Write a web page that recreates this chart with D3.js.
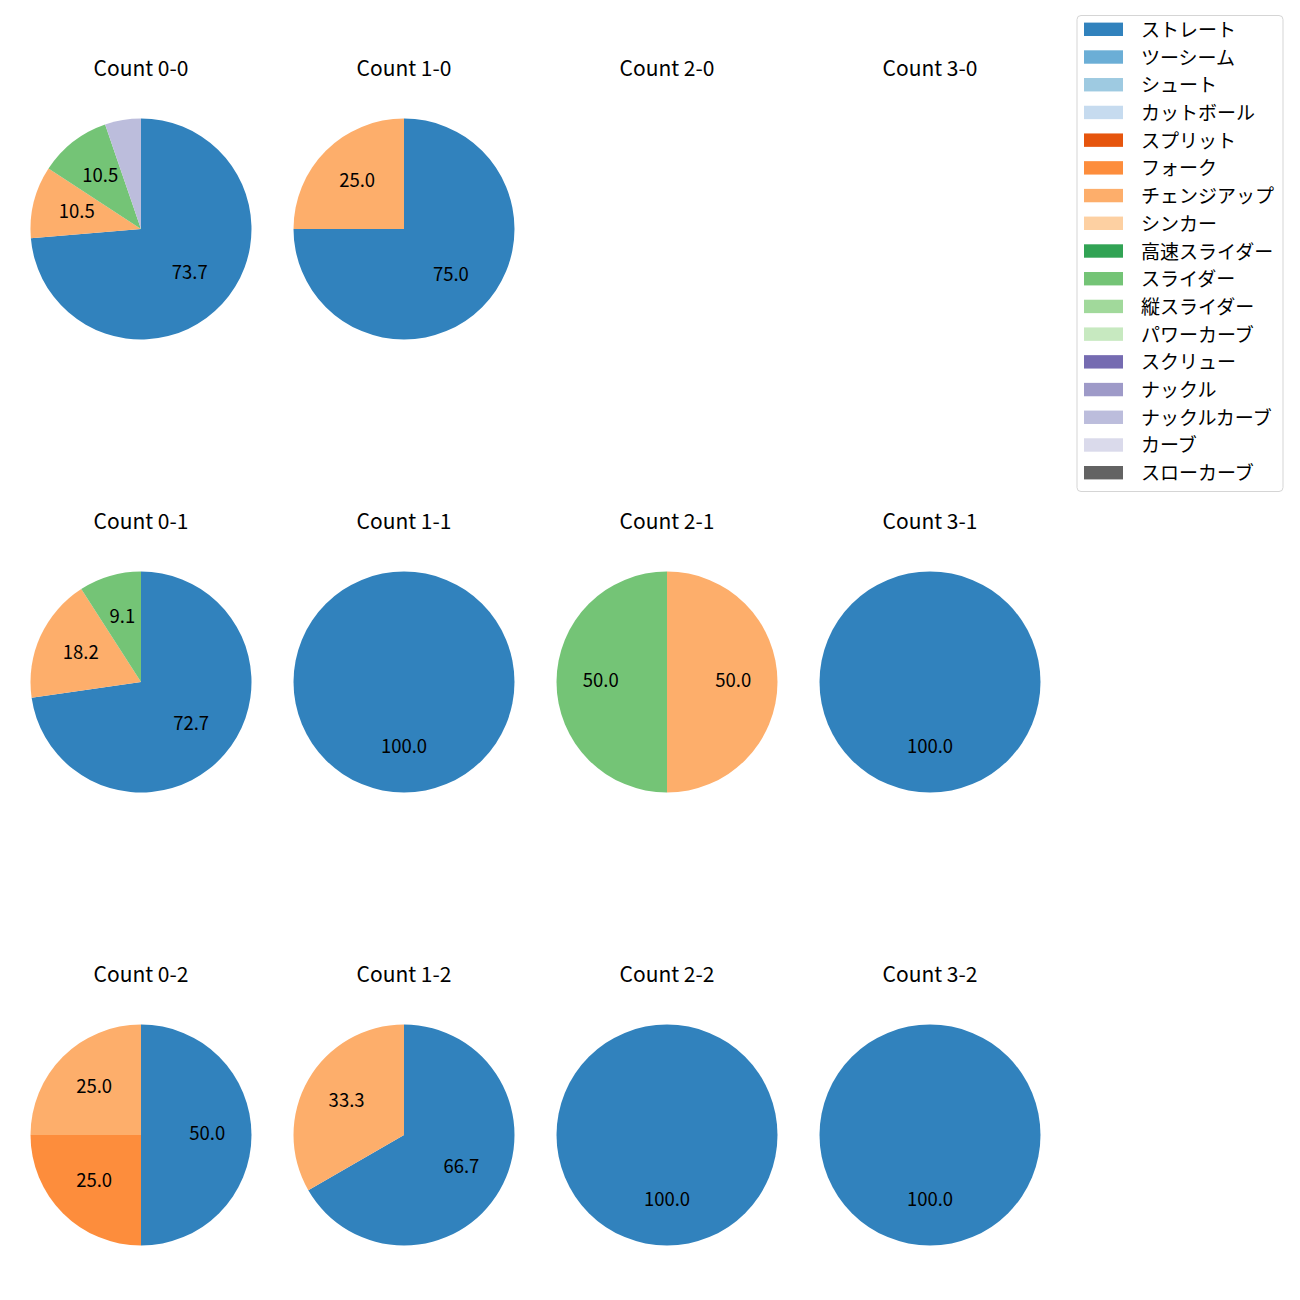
<!DOCTYPE html>
<html><head><meta charset="utf-8">
<script src="https://cdn.jsdelivr.net/npm/d3@7"></script>
<style>body{margin:0;background:#fff}svg{display:block}text{font-family:"Noto Sans CJK JP","Noto Sans",sans-serif}</style>
</head><body><svg id="c" width="1300" height="1300"></svg>
<script>
const pitchTypes = ["ストレート","ツーシーム","シュート","カットボール","スプリット","フォーク","チェンジアップ","シンカー","高速スライダー","スライダー","縦スライダー","パワーカーブ","スクリュー","ナックル","ナックルカーブ","カーブ","スローカーブ"];
const colors = ["#3182bd","#6baed6","#9ecae1","#c6dbef","#e6550d","#fd8d3c","#fdae6b","#fdd0a2","#31a354","#74c476","#a1d99b","#c7e9c0","#756bb1","#9e9ac8","#bcbddc","#dadaeb","#636363"];
const countLabels = ["0-0","1-0","2-0","3-0","0-1","1-1","2-1","3-1","0-2","1-2","2-2","3-2"];
// pitch counts per ball-strike count: [pitchType, number]
const c00 = [["ストレート",14],["チェンジアップ",2],["スライダー",2],["ナックルカーブ",1]];
const c10 = [["ストレート",3],["チェンジアップ",1]];
const c20 = [];
const c30 = [];
const c01 = [["ストレート",8],["チェンジアップ",2],["スライダー",1]];
const c11 = [["ストレート",1]];
const c21 = [["チェンジアップ",1],["スライダー",1]];
const c31 = [["ストレート",1]];
const c02 = [["ストレート",2],["フォーク",1],["チェンジアップ",1]];
const c12 = [["ストレート",2],["チェンジアップ",1]];
const c22 = [["ストレート",1]];
const c32 = [["ストレート",1]];
const countData = [c00,c10,c20,c30,c01,c11,c21,c31,c02,c12,c22,c32];

const svg = d3.select("#c");
const color = d3.scaleOrdinal().domain(pitchTypes).range(colors);
const xPos = d3.scaleLinear().domain([0,3]).range([141,930]);
const yPos = d3.scaleLinear().domain([0,2]).range([229,1135]);
const R = 110.5;
const pie = d3.pie().sort(null).value(d=>d[1]).startAngle(0).endAngle(2*Math.PI);
const arc = d3.arc().innerRadius(0).outerRadius(R);

countData.forEach((data,i)=>{
  const col = i%4, row = Math.floor(i/4);
  const cx = xPos(col), cy = yPos(row);
  svg.append("text").attr("x",cx).attr("y",cy-162).attr("text-anchor","middle")
    .attr("dominant-baseline","central").attr("font-size",21).attr("fill","#000")
    .text("Count "+countLabels[i]);
  if(!data.length) return;
  const total = d3.sum(data,d=>d[1]);
  const g = svg.append("g").attr("transform",`translate(${cx},${cy})`);
  const arcs = pie(data);
  g.selectAll("path").data(arcs).join("path")
    .attr("d",d=>arc(d))
    .attr("fill",d=>color(d.data[0]));
  arcs.forEach(d=>{
    const pct = d.data[1]/total*100;
    if(pct<6) return;
    const a = (d.startAngle+d.endAngle)/2;
    g.append("text").attr("x",0.6*R*Math.sin(a)).attr("y",-0.6*R*Math.cos(a)-3)
      .attr("text-anchor","middle").attr("dominant-baseline","central")
      .attr("font-size",18.5).attr("fill","#000").text(pct.toFixed(1));
  });
});

// legend
const lg = svg.append("g");
lg.append("rect").attr("x",1077).attr("y",15.5).attr("width",206).attr("height",476)
  .attr("rx",4).attr("fill","#fff").attr("stroke","#d5d5d5").attr("stroke-width",1);
const ly = d3.scaleLinear().domain([0,16]).range([29.3,472.7]);
pitchTypes.forEach((p,i)=>{
  lg.append("rect").attr("x",1084).attr("y",ly(i)-6.7).attr("width",39).attr("height",13.4).attr("fill",color(p));
  lg.append("text").attr("x",1141).attr("y",ly(i)-1).attr("dominant-baseline","central")
    .attr("font-size",19).attr("fill","#000").text(p);
});
</script></body></html>
